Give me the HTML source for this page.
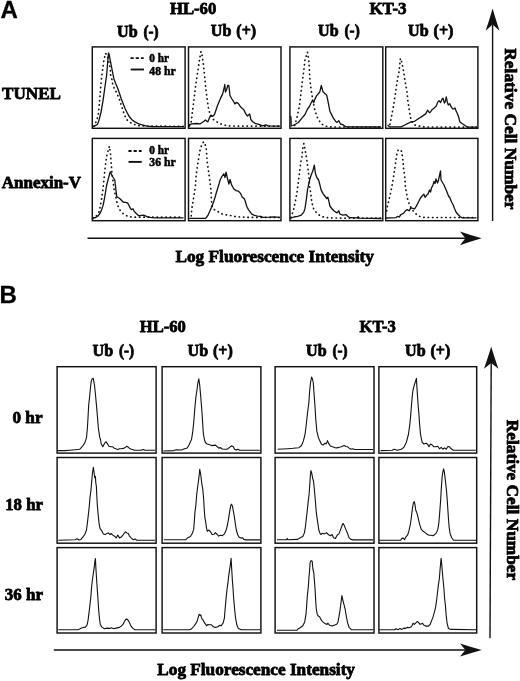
<!DOCTYPE html>
<html><head><meta charset="utf-8"><style>
html,body{margin:0;padding:0;background:#fff;}
svg{display:block;will-change:transform;}
</style></head><body>
<svg width="520" height="681" viewBox="0 0 520 681">
<rect width="520" height="681" fill="#fff"/>
<rect x="92.3" y="46.9" width="92.8" height="81.4" fill="none" stroke="#111" stroke-width="1.45"/>
<rect x="188.5" y="46.9" width="92.5" height="81.4" fill="none" stroke="#111" stroke-width="1.45"/>
<rect x="289.9" y="46.9" width="92.9" height="81.4" fill="none" stroke="#111" stroke-width="1.45"/>
<rect x="385.7" y="46.9" width="92.2" height="81.4" fill="none" stroke="#111" stroke-width="1.45"/>
<rect x="92.3" y="138.4" width="92.8" height="82.3" fill="none" stroke="#111" stroke-width="1.45"/>
<rect x="188.5" y="138.4" width="92.5" height="82.3" fill="none" stroke="#111" stroke-width="1.45"/>
<rect x="289.9" y="138.4" width="92.9" height="82.3" fill="none" stroke="#111" stroke-width="1.45"/>
<rect x="385.7" y="138.4" width="92.2" height="82.3" fill="none" stroke="#111" stroke-width="1.45"/>
<rect x="57.1" y="366.7" width="99.0" height="86.4" fill="none" stroke="#111" stroke-width="1.45"/>
<rect x="162.1" y="366.7" width="98.8" height="86.4" fill="none" stroke="#111" stroke-width="1.45"/>
<rect x="275.1" y="366.7" width="98.9" height="86.4" fill="none" stroke="#111" stroke-width="1.45"/>
<rect x="378.9" y="366.7" width="97.8" height="86.4" fill="none" stroke="#111" stroke-width="1.45"/>
<rect x="57.1" y="457.5" width="99.0" height="85.7" fill="none" stroke="#111" stroke-width="1.45"/>
<rect x="162.1" y="457.5" width="98.8" height="85.7" fill="none" stroke="#111" stroke-width="1.45"/>
<rect x="275.1" y="457.5" width="98.9" height="85.7" fill="none" stroke="#111" stroke-width="1.45"/>
<rect x="378.9" y="457.5" width="97.8" height="85.7" fill="none" stroke="#111" stroke-width="1.45"/>
<rect x="57.1" y="547.6" width="99.0" height="85.4" fill="none" stroke="#111" stroke-width="1.45"/>
<rect x="162.1" y="547.6" width="98.8" height="85.4" fill="none" stroke="#111" stroke-width="1.45"/>
<rect x="275.1" y="547.6" width="98.9" height="85.4" fill="none" stroke="#111" stroke-width="1.45"/>
<rect x="378.9" y="547.6" width="97.8" height="85.4" fill="none" stroke="#111" stroke-width="1.45"/>
<line x1="492.6" y1="24.5" x2="492.6" y2="221" stroke="#111" stroke-width="1.4"/><path d="M492.6,8.5 Q496.05,20.45 499.5,30.8 L492.6,24.5 L485.70000000000005,30.8 Q489.15000000000003,20.45 492.6,8.5Z" fill="#111"/>
<line x1="491.2" y1="363" x2="490.0" y2="638.3" stroke="#111" stroke-width="1.4"/><path d="M491.2,346.7 Q494.8,358.55 498.4,368.8 L491.2,363 L484.0,368.8 Q487.59999999999997,358.55 491.2,346.7Z" fill="#111"/>
<line x1="87.5" y1="238.3" x2="465.4" y2="238.3" stroke="#111" stroke-width="1.6"/><path d="M481.7,238.3 Q470.05,234.85000000000002 460,231.4 L465.4,238.3 L460,245.20000000000002 Q470.05,241.75 481.7,238.3Z" fill="#111"/>
<line x1="53.8" y1="650.0" x2="465.4" y2="650.0" stroke="#111" stroke-width="1.6"/><path d="M481.8,650.0 Q470.09999999999997,646.7 460,643.4 L465.4,650.0 L460,656.6 Q470.09999999999997,653.3 481.8,650.0Z" fill="#111"/>
<text x="0.45" y="18.4" font-family="&quot;Liberation Sans&quot;, sans-serif" font-weight="bold" font-size="24" text-anchor="start" stroke="#000" stroke-width="0.3" stroke-linejoin="round">A</text>
<text x="-0.45" y="302.7" font-family="&quot;Liberation Sans&quot;, sans-serif" font-weight="bold" font-size="24" text-anchor="start" stroke="#000" stroke-width="0.3" stroke-linejoin="round">B</text>
<text x="169.90" y="14.4" font-family="&quot;Liberation Serif&quot;, serif" font-weight="bold" font-size="17.5" text-anchor="start" textLength="46.4" lengthAdjust="spacingAndGlyphs" stroke="#000" stroke-width="0.8" stroke-linejoin="round">HL-60</text>
<text x="369.40" y="14.4" font-family="&quot;Liberation Serif&quot;, serif" font-weight="bold" font-size="17.5" text-anchor="start" textLength="37.2" lengthAdjust="spacingAndGlyphs" stroke="#000" stroke-width="0.8" stroke-linejoin="round">KT-3</text>
<text x="117.00" y="36.6" font-family="&quot;Liberation Serif&quot;, serif" font-weight="bold" font-size="17.5" text-anchor="start" textLength="20.6" lengthAdjust="spacingAndGlyphs" stroke="#000" stroke-width="0.8" stroke-linejoin="round">Ub</text><text x="143.40" y="36.6" font-family="&quot;Liberation Serif&quot;, serif" font-weight="bold" font-size="17.5" text-anchor="start" textLength="15.2" lengthAdjust="spacingAndGlyphs" stroke="#000" stroke-width="0.8" stroke-linejoin="round">(-)</text>
<text x="210.80" y="36.4" font-family="&quot;Liberation Serif&quot;, serif" font-weight="bold" font-size="17.5" text-anchor="start" textLength="20.6" lengthAdjust="spacingAndGlyphs" stroke="#000" stroke-width="0.8" stroke-linejoin="round">Ub</text><text x="236.30" y="36.4" font-family="&quot;Liberation Serif&quot;, serif" font-weight="bold" font-size="17.5" text-anchor="start" textLength="19.8" lengthAdjust="spacingAndGlyphs" stroke="#000" stroke-width="0.8" stroke-linejoin="round">(+)</text>
<text x="318.10" y="36.4" font-family="&quot;Liberation Serif&quot;, serif" font-weight="bold" font-size="17.5" text-anchor="start" textLength="20.6" lengthAdjust="spacingAndGlyphs" stroke="#000" stroke-width="0.8" stroke-linejoin="round">Ub</text><text x="344.50" y="36.4" font-family="&quot;Liberation Serif&quot;, serif" font-weight="bold" font-size="17.5" text-anchor="start" textLength="15.2" lengthAdjust="spacingAndGlyphs" stroke="#000" stroke-width="0.8" stroke-linejoin="round">(-)</text>
<text x="408.10" y="36.4" font-family="&quot;Liberation Serif&quot;, serif" font-weight="bold" font-size="17.5" text-anchor="start" textLength="20.6" lengthAdjust="spacingAndGlyphs" stroke="#000" stroke-width="0.8" stroke-linejoin="round">Ub</text><text x="433.60" y="36.4" font-family="&quot;Liberation Serif&quot;, serif" font-weight="bold" font-size="17.5" text-anchor="start" textLength="19.8" lengthAdjust="spacingAndGlyphs" stroke="#000" stroke-width="0.8" stroke-linejoin="round">(+)</text>
<text x="2.10" y="98.7" font-family="&quot;Liberation Serif&quot;, serif" font-weight="bold" font-size="17.5" text-anchor="start" textLength="58.9" lengthAdjust="spacingAndGlyphs" stroke="#000" stroke-width="0.8" stroke-linejoin="round">TUNEL</text>
<text x="1.80" y="187.5" font-family="&quot;Liberation Serif&quot;, serif" font-weight="bold" font-size="17.5" text-anchor="start" textLength="79.2" lengthAdjust="spacingAndGlyphs" stroke="#000" stroke-width="0.8" stroke-linejoin="round">Annexin-V</text>
<text x="175.40" y="262.3" font-family="&quot;Liberation Serif&quot;, serif" font-weight="bold" font-size="17.5" text-anchor="start" textLength="198.5" lengthAdjust="spacingAndGlyphs" stroke="#000" stroke-width="0.8" stroke-linejoin="round">Log Fluorescence Intensity</text>
<g transform="translate(505,47.9) rotate(90)"><text x="0.40" y="0" font-family="&quot;Liberation Serif&quot;, serif" font-weight="bold" font-size="17.5" text-anchor="start" textLength="161.2" lengthAdjust="spacingAndGlyphs" stroke="#000" stroke-width="0.8" stroke-linejoin="round">Relative Cell Number</text></g>
<text x="149.35" y="61.9" font-family="&quot;Liberation Serif&quot;, serif" font-weight="bold" font-size="12" text-anchor="start" textLength="19.8" lengthAdjust="spacingAndGlyphs" stroke="#000" stroke-width="0.5" stroke-linejoin="round">0 hr</text>
<text x="149.35" y="75.4" font-family="&quot;Liberation Serif&quot;, serif" font-weight="bold" font-size="12" text-anchor="start" textLength="26.3" lengthAdjust="spacingAndGlyphs" stroke="#000" stroke-width="0.5" stroke-linejoin="round">48 hr</text>
<text x="149.35" y="153.7" font-family="&quot;Liberation Serif&quot;, serif" font-weight="bold" font-size="12" text-anchor="start" textLength="19.8" lengthAdjust="spacingAndGlyphs" stroke="#000" stroke-width="0.5" stroke-linejoin="round">0 hr</text>
<text x="149.35" y="166.2" font-family="&quot;Liberation Serif&quot;, serif" font-weight="bold" font-size="12" text-anchor="start" textLength="26.3" lengthAdjust="spacingAndGlyphs" stroke="#000" stroke-width="0.5" stroke-linejoin="round">36 hr</text>
<text x="139.80" y="331.6" font-family="&quot;Liberation Serif&quot;, serif" font-weight="bold" font-size="17.5" text-anchor="start" textLength="46.1" lengthAdjust="spacingAndGlyphs" stroke="#000" stroke-width="0.8" stroke-linejoin="round">HL-60</text>
<text x="359.60" y="332.3" font-family="&quot;Liberation Serif&quot;, serif" font-weight="bold" font-size="17.5" text-anchor="start" textLength="36.2" lengthAdjust="spacingAndGlyphs" stroke="#000" stroke-width="0.8" stroke-linejoin="round">KT-3</text>
<text x="92.50" y="356.3" font-family="&quot;Liberation Serif&quot;, serif" font-weight="bold" font-size="17.5" text-anchor="start" textLength="20.6" lengthAdjust="spacingAndGlyphs" stroke="#000" stroke-width="0.8" stroke-linejoin="round">Ub</text><text x="118.90" y="356.3" font-family="&quot;Liberation Serif&quot;, serif" font-weight="bold" font-size="17.5" text-anchor="start" textLength="15.2" lengthAdjust="spacingAndGlyphs" stroke="#000" stroke-width="0.8" stroke-linejoin="round">(-)</text>
<text x="187.50" y="356.3" font-family="&quot;Liberation Serif&quot;, serif" font-weight="bold" font-size="17.5" text-anchor="start" textLength="20.6" lengthAdjust="spacingAndGlyphs" stroke="#000" stroke-width="0.8" stroke-linejoin="round">Ub</text><text x="213.00" y="356.3" font-family="&quot;Liberation Serif&quot;, serif" font-weight="bold" font-size="17.5" text-anchor="start" textLength="19.8" lengthAdjust="spacingAndGlyphs" stroke="#000" stroke-width="0.8" stroke-linejoin="round">(+)</text>
<text x="306.00" y="356.2" font-family="&quot;Liberation Serif&quot;, serif" font-weight="bold" font-size="17.5" text-anchor="start" textLength="20.6" lengthAdjust="spacingAndGlyphs" stroke="#000" stroke-width="0.8" stroke-linejoin="round">Ub</text><text x="332.40" y="356.2" font-family="&quot;Liberation Serif&quot;, serif" font-weight="bold" font-size="17.5" text-anchor="start" textLength="15.2" lengthAdjust="spacingAndGlyphs" stroke="#000" stroke-width="0.8" stroke-linejoin="round">(-)</text>
<text x="405.00" y="356.3" font-family="&quot;Liberation Serif&quot;, serif" font-weight="bold" font-size="17.5" text-anchor="start" textLength="20.6" lengthAdjust="spacingAndGlyphs" stroke="#000" stroke-width="0.8" stroke-linejoin="round">Ub</text><text x="430.50" y="356.3" font-family="&quot;Liberation Serif&quot;, serif" font-weight="bold" font-size="17.5" text-anchor="start" textLength="19.8" lengthAdjust="spacingAndGlyphs" stroke="#000" stroke-width="0.8" stroke-linejoin="round">(+)</text>
<text x="12.50" y="423.1" font-family="&quot;Liberation Serif&quot;, serif" font-weight="bold" font-size="17.5" text-anchor="start" textLength="30.0" lengthAdjust="spacingAndGlyphs" stroke="#000" stroke-width="0.8" stroke-linejoin="round">0 hr</text>
<text x="5.20" y="510.4" font-family="&quot;Liberation Serif&quot;, serif" font-weight="bold" font-size="17.5" text-anchor="start" textLength="37.7" lengthAdjust="spacingAndGlyphs" stroke="#000" stroke-width="0.8" stroke-linejoin="round">18 hr</text>
<text x="4.80" y="599.8" font-family="&quot;Liberation Serif&quot;, serif" font-weight="bold" font-size="17.5" text-anchor="start" textLength="38.1" lengthAdjust="spacingAndGlyphs" stroke="#000" stroke-width="0.8" stroke-linejoin="round">36 hr</text>
<text x="157.30" y="675.4" font-family="&quot;Liberation Serif&quot;, serif" font-weight="bold" font-size="17.5" text-anchor="start" textLength="197.7" lengthAdjust="spacingAndGlyphs" stroke="#000" stroke-width="0.8" stroke-linejoin="round">Log Fluorescence Intensity</text>
<g transform="translate(506.7,419.4) rotate(90)"><text x="0.40" y="0" font-family="&quot;Liberation Serif&quot;, serif" font-weight="bold" font-size="17.5" text-anchor="start" textLength="160.4" lengthAdjust="spacingAndGlyphs" stroke="#000" stroke-width="0.8" stroke-linejoin="round">Relative Cell Number</text></g>
<polyline points="93.2,126.6 94.7,125.8 96.2,125.2 97.5,124.3 98.4,122.0 99.3,119.1 100.2,115.5 101.1,111.8 102.0,106.3 103.0,100.8 103.9,94.4 104.8,88.0 105.7,81.5 106.6,75.3 107.1,69.8 107.5,64.3 108.0,58.5 108.5,52.8 109.3,55.0 110.3,60.6 112.1,69.8 113.9,78.9 115.7,83.5 117.6,88.0 119.5,93.5 121.3,99.0 123.1,103.6 124.9,108.2 126.8,112.0 128.6,115.5 130.4,118.0 132.2,120.0 134.5,121.6 136.8,122.8 139.0,123.8 141.4,124.6 146.8,126.1 152.0,126.5 184.0,126.6" fill="none" stroke="#111" stroke-width="1.3" stroke-linejoin="round"/>
<polyline points="93.8,126.3 95.2,123.5 96.6,121.0 97.5,117.5 98.4,113.6 99.3,104.5 100.2,93.5 101.1,82.6 102.1,73.4 103.0,67.0 103.9,60.6 104.8,56.5 105.7,53.3 106.8,55.5 108.2,58.5 110.4,69.6 110.4,74.0 111.9,79.5 112.4,83.0 114.4,88.7 116.7,92.9 119.8,100.3 121.5,106.0 123.8,113.0 126.3,119.3 130.2,122.5 134.0,124.4 140.0,125.9 184.0,126.4" fill="none" stroke="#111" stroke-width="1.7" stroke-dasharray="0.3 4.1" stroke-linecap="round"/>
<polyline points="188.6,125.0 191.7,123.8 196.6,123.5 200.3,123.8 204.0,121.3 205.3,120.0 207.8,121.9 209.6,117.6 210.8,115.1 212.7,116.4 214.5,114.5 217.6,105.3 220.7,97.9 222.6,94.1 224.4,86.7 224.8,84.5 225.4,92.0 226.5,90.0 227.7,85.5 228.8,85.5 229.4,89.7 229.9,95.2 231.6,98.5 233.8,101.8 234.9,104.0 236.5,102.3 238.2,103.4 240.9,107.3 243.6,109.5 245.8,113.9 247.5,116.0 249.7,113.9 250.8,119.3 252.4,121.5 255.7,123.7 259.0,124.3 262.3,125.9 266.1,124.8 267.8,125.9 280.0,126.1" fill="none" stroke="#111" stroke-width="1.3" stroke-linejoin="round"/>
<polyline points="189.5,126.0 191.1,122.5 192.3,112.7 193.6,102.8 194.8,92.9 196.0,83.0 197.9,70.7 199.7,58.3 201.0,51.6 202.2,55.9 203.4,64.5 204.7,76.9 205.9,89.2 207.1,99.1 208.4,107.7 210.2,115.1 213.9,120.0 218.9,123.2 223.8,125.0 230.0,126.0 280.0,126.2" fill="none" stroke="#111" stroke-width="1.7" stroke-dasharray="0.3 4.1" stroke-linecap="round"/>
<polyline points="290.5,116.0 291.0,118.0 291.2,126.0 292.7,125.5 295.8,124.0 298.3,122.5 301.3,118.8 305.0,114.5 307.5,109.0 309.4,106.5 311.2,102.8 312.5,100.3 313.7,102.8 314.9,99.1 316.8,95.4 318.6,93.5 319.9,91.7 321.3,85.5 323.0,91.7 325.4,94.1 326.6,95.0 327.3,97.9 328.2,102.3 329.9,111.2 331.6,114.6 333.2,117.9 335.5,121.2 337.1,122.4 338.8,120.7 340.5,124.0 342.7,124.6 344.4,125.7 346.1,126.8 381.0,127.0" fill="none" stroke="#111" stroke-width="1.3" stroke-linejoin="round"/>
<polyline points="294.6,125.5 297.0,117.6 299.5,105.3 301.3,90.4 302.6,79.3 303.8,70.7 305.0,59.6 306.3,55.9 307.5,52.2 308.8,60.8 309.4,70.7 310.0,80.6 311.2,90.4 313.1,101.6 314.9,110.2 317.4,117.6 321.1,123.8 326.0,126.2 332.2,127.0 381.0,127.0" fill="none" stroke="#111" stroke-width="1.7" stroke-dasharray="0.3 4.1" stroke-linecap="round"/>
<polyline points="387.5,125.0 389.9,126.9 401.0,126.9 404.8,125.0 408.5,123.2 410.9,121.9 414.6,121.3 418.3,118.8 422.0,116.4 425.7,113.9 427.6,110.2 429.4,112.7 430.5,112.0 431.9,109.8 434.3,107.9 436.3,106.0 437.7,102.1 439.1,100.7 440.6,102.6 442.0,99.2 443.0,98.3 444.4,103.1 445.4,101.2 446.3,96.8 447.3,102.1 448.3,105.0 449.7,103.6 451.2,106.9 452.6,108.8 454.0,108.8 455.0,107.9 456.0,110.8 457.4,113.7 458.8,117.5 459.8,121.8 461.7,123.3 464.6,125.2 466.5,126.6 468.5,127.1 476.5,127.1" fill="none" stroke="#111" stroke-width="1.3" stroke-linejoin="round"/>
<polyline points="389.9,124.5 391.8,115.1 393.6,105.3 395.5,92.9 396.7,84.3 398.0,76.9 399.2,70.7 400.4,58.3 401.7,62.0 403.5,70.7 404.8,79.3 406.0,86.7 407.2,92.9 407.8,100.3 409.1,109.0 410.3,116.4 411.5,121.3 414.6,125.0 419.6,126.2 425.0,127.0 476.5,127.1" fill="none" stroke="#111" stroke-width="1.7" stroke-dasharray="0.3 4.1" stroke-linecap="round"/>
<polyline points="92.6,218.2 95.7,217.5 98.0,216.0 100.2,213.0 101.7,209.5 103.0,205.6 104.0,201.0 104.8,196.5 105.7,191.0 106.6,185.5 107.6,181.5 108.5,178.2 109.5,174.5 110.3,171.8 111.3,174.0 112.5,176.5 113.8,178.5 114.8,180.0 115.7,188.0 116.7,196.5 118.0,197.5 119.4,198.3 121.2,200.0 123.1,202.0 125.3,202.4 127.6,202.9 129.0,205.5 130.4,208.4 131.3,209.6 133.0,208.8 134.0,211.1 136.3,213.5 138.6,215.7 140.3,215.7 143.6,215.2 147.0,216.6 150.3,217.4 154.8,217.9 183.5,217.9" fill="none" stroke="#111" stroke-width="1.3" stroke-linejoin="round"/>
<polyline points="93.0,218.5 95.7,216.6 97.5,214.5 99.3,211.1 101.1,202.0 103.0,189.2 104.8,170.9 106.6,156.3 108.0,151.0 109.4,146.2 110.5,154.0 111.1,162.7 111.8,171.3 113.0,181.2 114.2,189.9 116.1,198.5 117.9,205.9 120.4,210.8 124.1,214.5 129.0,216.8 135.2,217.2 183.5,217.2" fill="none" stroke="#111" stroke-width="1.7" stroke-dasharray="0.3 4.1" stroke-linecap="round"/>
<polyline points="189.2,218.4 205.3,218.4 206.5,217.4 208.2,214.8 209.9,211.1 211.8,206.8 213.6,202.0 215.0,197.5 216.3,192.8 217.8,188.0 219.1,183.7 220.1,180.0 222.0,176.3 223.8,173.8 225.0,177.5 226.1,172.2 227.2,177.3 228.9,184.0 230.0,179.5 231.7,185.1 233.9,189.0 236.1,190.6 238.4,191.2 240.6,193.4 242.3,197.3 244.0,198.4 245.1,200.7 246.7,206.2 248.4,209.6 250.1,211.8 251.8,214.1 254.0,215.2 257.3,216.1 260.7,216.3 262.9,217.4 269.6,217.2 274.1,216.8 280.0,217.4" fill="none" stroke="#111" stroke-width="1.3" stroke-linejoin="round"/>
<polyline points="191.2,216.0 191.7,209.3 193.5,198.3 195.3,187.4 196.2,174.6 198.1,161.8 199.9,150.8 201.5,145.5 203.6,141.8 205.0,144.0 206.3,149.0 207.2,161.8 209.0,174.6 210.9,189.2 211.8,205.6 213.6,209.3 217.0,210.8 220.1,213.3 223.8,214.5 228.7,215.2 232.4,215.8 236.1,216.8 247.3,217.4 280.0,217.5" fill="none" stroke="#111" stroke-width="1.7" stroke-dasharray="0.3 4.1" stroke-linecap="round"/>
<polyline points="290.2,218.4 293.9,217.0 297.6,216.4 301.3,215.2 303.8,212.1 305.0,208.4 306.3,199.7 307.5,189.9 308.8,183.7 310.0,178.7 311.2,175.0 313.1,170.1 314.3,165.2 315.5,173.8 316.8,177.5 318.6,180.0 319.9,184.9 321.1,189.9 323.0,193.6 324.8,196.0 326.7,198.5 327.9,197.3 329.1,202.2 329.9,206.0 332.1,209.0 334.4,211.2 337.1,212.9 338.8,210.7 339.9,214.0 342.7,215.1 346.1,214.6 347.7,216.2 350.0,217.7 357.2,217.9 358.3,216.8 359.4,218.1 381.5,218.5" fill="none" stroke="#111" stroke-width="1.3" stroke-linejoin="round"/>
<polyline points="291.0,217.5 291.5,215.8 293.3,210.8 295.2,202.2 297.0,192.3 298.3,182.4 299.5,172.6 300.7,162.7 302.0,156.5 302.6,149.1 303.8,143.6 305.0,149.1 306.3,156.5 307.5,165.2 308.8,175.0 309.4,184.9 310.6,192.3 311.8,202.2 313.7,209.0 316.8,213.3 321.1,216.4 326.0,217.6 332.2,218.0 381.5,218.2" fill="none" stroke="#111" stroke-width="1.7" stroke-dasharray="0.3 4.1" stroke-linecap="round"/>
<polyline points="386.2,218.0 396.1,217.6 397.3,216.4 399.2,217.0 401.0,214.5 403.5,213.3 405.4,210.8 407.2,209.6 409.1,210.8 410.9,207.8 412.8,208.4 414.6,209.0 416.5,205.9 418.3,202.2 420.2,198.5 422.0,196.0 423.9,194.2 425.1,197.3 427.0,194.8 428.0,194.0 429.5,190.0 430.5,192.0 431.5,188.0 433.0,185.0 434.0,181.5 435.0,183.5 436.0,179.0 437.5,183.0 438.5,180.0 439.5,175.5 440.5,171.0 441.0,180.0 442.5,182.5 444.0,185.0 445.5,188.5 447.0,192.0 448.5,196.0 450.0,198.0 451.5,202.0 453.0,204.5 454.5,208.5 456.0,212.0 458.0,214.5 460.0,216.5 462.0,217.8 476.5,217.8" fill="none" stroke="#111" stroke-width="1.3" stroke-linejoin="round"/>
<polyline points="386.6,211.0 387.5,205.9 389.3,198.5 391.2,189.9 392.4,183.7 393.6,176.3 394.9,167.6 396.1,159.0 397.3,151.6 398.6,149.7 400.4,149.7 401.7,151.6 402.9,160.2 403.5,167.6 404.8,177.5 405.4,187.4 406.6,193.6 407.8,199.7 409.7,205.3 412.2,209.6 414.6,212.7 418.3,215.8 422.0,217.3 429.4,217.5 476.5,217.5" fill="none" stroke="#111" stroke-width="1.7" stroke-dasharray="0.3 4.1" stroke-linecap="round"/>
<polyline points="57.6,450.6 64.8,450.6 69.9,450.2 75.1,449.7 79.6,449.3 82.2,446.7 84.8,442.9 86.5,437.7 87.4,428.0 88.0,417.7 88.7,404.8 89.6,397.0 90.3,389.3 91.2,381.5 92.1,378.9 93.2,378.3 94.5,385.0 95.5,395.0 96.4,404.6 97.4,416.1 98.3,427.6 99.7,437.2 100.6,440.0 101.1,443.4 102.8,446.8 104.5,443.4 106.1,441.7 107.2,443.4 108.9,446.2 111.1,446.8 112.8,446.8 113.9,447.9 115.6,448.8 117.8,449.5 119.5,448.8 121.2,448.8 123.4,448.4 125.1,447.6 126.8,446.2 128.4,447.3 130.1,448.8 132.3,449.5 134.6,450.3 141.2,450.1 143.5,449.5 144.6,450.1 155.0,450.3" fill="none" stroke="#111" stroke-width="1.1" stroke-linejoin="round"/>
<polyline points="163.3,451.0 173.6,450.6 176.2,449.7 181.4,450.0 184.6,448.7 187.2,448.0 189.1,444.8 191.5,439.6 192.7,431.9 193.7,422.8 194.3,415.1 194.9,407.3 195.9,397.0 196.9,390.5 197.9,382.8 198.8,378.9 199.7,385.0 200.6,395.0 201.5,406.0 202.3,417.0 202.9,427.0 203.4,434.0 204.5,440.0 205.6,442.7 207.2,444.0 209.5,444.7 211.7,445.6 213.4,445.4 215.6,445.1 217.3,446.8 218.9,448.1 220.6,447.6 222.3,449.0 224.5,449.2 226.7,449.2 228.4,448.4 230.1,446.8 231.8,445.9 233.4,446.8 234.5,449.2 236.2,450.1 237.9,449.2 239.6,450.3 259.8,450.3" fill="none" stroke="#111" stroke-width="1.1" stroke-linejoin="round"/>
<polyline points="277.6,449.3 287.9,448.7 293.1,448.3 298.9,447.7 301.5,445.5 303.4,440.9 305.0,434.5 306.0,426.7 307.0,417.7 307.9,409.9 308.9,402.2 309.6,391.8 310.5,382.8 311.6,377.0 312.6,379.5 313.3,383.0 314.0,393.0 315.0,406.4 315.8,419.8 316.9,431.4 318.3,437.2 319.7,440.6 321.3,444.0 323.0,445.1 324.7,443.4 326.4,443.6 327.5,440.6 328.6,443.4 330.3,445.9 332.5,446.8 334.7,447.6 337.0,447.9 339.2,447.3 341.4,446.8 344.2,445.6 345.9,446.5 347.5,446.8 349.2,448.1 350.9,449.2 352.6,448.8 354.8,449.5 373.0,449.5" fill="none" stroke="#111" stroke-width="1.1" stroke-linejoin="round"/>
<polyline points="380.6,450.6 392.2,450.2 394.1,449.3 397.4,450.2 401.3,449.3 403.8,447.4 406.4,442.2 408.4,434.5 409.7,425.4 410.6,416.4 411.3,407.3 412.2,397.0 412.9,390.5 414.2,385.4 415.5,381.5 416.4,378.3 416.8,385.4 417.4,394.4 418.1,404.8 419.0,415.1 419.6,424.1 420.4,433.2 421.1,437.5 422.2,442.3 423.9,444.0 426.1,443.2 427.8,444.5 428.9,446.8 430.6,444.0 432.3,445.1 433.9,446.8 436.2,446.8 437.8,446.2 439.5,448.8 441.2,447.3 442.9,449.2 444.5,447.9 446.2,449.2 447.9,446.5 449.5,446.8 451.2,448.8 453.4,450.3 475.8,450.3" fill="none" stroke="#111" stroke-width="1.1" stroke-linejoin="round"/>
<polyline points="58.3,540.3 75.1,539.7 77.0,538.7 79.0,540.0 80.9,539.4 82.8,537.1 84.8,534.5 86.5,530.0 87.4,522.9 88.3,515.1 89.3,506.1 89.9,498.3 90.9,490.6 91.6,482.8 92.5,472.5 93.4,467.3 94.2,473.8 94.7,477.7 95.4,476.4 95.8,482.8 96.4,486.7 96.8,495.8 97.3,504.8 98.1,513.8 99.0,522.9 100.0,528.4 101.7,530.7 103.3,534.0 105.0,534.6 106.7,533.5 108.4,532.9 110.0,534.6 111.1,533.5 112.8,535.1 114.5,536.2 116.2,537.9 117.8,535.1 119.5,537.9 121.2,537.1 122.9,535.1 124.0,533.5 125.4,531.8 126.8,532.9 128.4,533.5 129.5,536.2 131.2,537.9 133.4,539.8 135.1,539.0 136.8,540.2 155.2,540.2" fill="none" stroke="#111" stroke-width="1.1" stroke-linejoin="round"/>
<polyline points="163.9,539.7 185.9,539.7 187.8,537.7 190.4,536.5 192.4,533.2 193.7,529.4 194.3,521.6 194.9,512.6 195.9,504.8 196.6,495.8 197.5,488.0 198.4,481.5 199.2,475.1 199.7,469.3 200.6,473.5 201.7,482.8 202.8,489.3 203.6,498.3 204.2,508.7 204.9,517.7 205.7,522.0 206.5,528.1 207.3,531.3 208.5,530.0 210.1,531.3 211.2,532.8 212.1,534.5 214.0,534.3 215.3,532.6 217.3,534.5 218.6,536.1 220.5,535.2 222.4,535.6 224.4,533.9 225.7,531.3 227.0,526.8 228.3,520.3 229.3,513.8 230.2,508.7 230.8,505.4 231.5,504.2 232.4,506.1 233.4,511.3 234.5,517.7 235.4,524.2 236.3,530.0 237.6,534.5 238.9,537.1 240.9,538.1 242.5,537.7 243.8,539.4 246.3,539.9 260.0,539.9" fill="none" stroke="#111" stroke-width="1.1" stroke-linejoin="round"/>
<polyline points="276.9,539.7 286.6,539.7 287.3,538.4 287.9,539.7 297.6,539.4 300.2,537.7 302.8,536.5 304.5,532.6 305.4,526.8 306.3,519.0 307.3,510.0 308.3,500.9 309.2,493.2 309.9,482.8 310.3,476.4 310.9,470.6 311.8,473.5 312.7,478.5 313.5,481.0 314.4,489.7 315.4,501.2 316.3,512.7 317.7,522.4 318.8,530.0 320.2,533.9 321.0,534.5 322.5,533.2 324.5,533.9 326.4,532.6 328.3,534.5 330.3,535.8 332.2,534.5 333.5,537.7 335.4,538.4 337.1,535.2 338.9,533.9 340.2,530.6 341.6,526.8 342.5,524.2 343.2,523.5 344.5,526.1 345.8,529.4 347.5,533.2 349.0,537.7 350.9,539.4 352.9,539.9 373.0,539.9" fill="none" stroke="#111" stroke-width="1.1" stroke-linejoin="round"/>
<polyline points="379.3,540.3 400.6,540.3 401.9,538.4 403.2,538.1 404.5,539.7 405.8,537.1 407.5,535.2 408.7,531.9 409.7,527.4 410.6,522.9 411.3,517.7 411.9,512.6 412.6,507.4 413.3,503.5 414.2,501.6 414.9,504.2 415.7,510.0 416.8,512.6 417.8,516.4 418.7,520.3 419.6,524.2 420.3,526.5 421.3,529.4 423.2,531.3 425.2,532.6 427.1,534.3 429.0,535.2 431.0,535.2 432.9,535.8 434.9,534.5 436.5,532.6 437.8,529.4 438.7,524.2 439.4,516.4 440.0,508.7 440.7,499.6 441.1,491.9 441.7,482.8 442.2,476.4 443.0,471.2 443.6,468.9 444.3,471.9 444.9,476.4 445.8,484.1 446.5,490.6 447.1,498.3 447.8,508.7 448.4,517.7 449.1,526.8 450.0,533.2 451.7,537.7 453.6,540.3 476.0,540.3" fill="none" stroke="#111" stroke-width="1.1" stroke-linejoin="round"/>
<polyline points="58.3,629.7 77.7,629.7 79.6,629.0 81.5,628.1 83.5,627.4 85.4,627.1 87.0,625.2 88.0,620.6 89.0,612.9 89.9,605.1 90.9,596.1 91.6,587.0 92.5,579.3 93.4,572.8 94.2,567.7 94.7,562.5 95.4,558.6 95.8,566.4 96.1,571.5 96.7,580.6 97.3,589.6 98.1,601.3 98.7,610.3 99.4,618.1 100.3,624.5 101.9,627.1 104.5,628.7 107.1,628.1 109.7,628.4 111.6,627.7 113.6,628.7 116.1,628.1 119.4,627.4 121.3,626.1 123.3,623.9 124.5,621.3 125.8,619.4 127.1,619.1 128.4,620.6 129.7,623.2 131.0,626.1 132.9,628.4 134.9,629.7 155.4,629.7" fill="none" stroke="#111" stroke-width="1.1" stroke-linejoin="round"/>
<polyline points="163.3,629.7 189.8,629.7 191.7,628.7 193.7,626.5 195.6,623.9 197.1,621.3 198.2,617.4 199.2,614.2 200.1,615.5 200.8,614.8 201.4,617.4 202.3,619.4 203.1,620.0 204.0,621.9 205.3,623.9 206.6,625.8 207.9,624.5 209.8,624.8 211.5,624.8 213.4,626.8 215.3,627.4 217.9,626.8 219.9,625.2 221.1,625.8 223.1,623.2 224.4,618.1 225.0,610.3 225.7,602.6 226.3,596.1 227.0,589.6 227.9,583.2 228.6,576.7 229.5,570.3 230.3,565.1 231.1,558.4 231.7,569.0 232.4,580.6 233.0,588.3 233.7,598.7 234.5,607.7 235.4,616.8 236.7,624.5 238.3,628.4 241.2,629.7 260.0,629.7" fill="none" stroke="#111" stroke-width="1.1" stroke-linejoin="round"/>
<polyline points="276.9,630.3 297.0,630.3 298.3,628.7 300.2,627.7 302.8,625.8 304.7,621.9 306.0,614.2 306.7,605.1 307.3,596.1 308.3,587.0 308.9,578.0 309.6,570.3 310.1,562.5 311.2,560.6 312.2,561.2 312.9,569.0 313.8,572.8 314.4,580.6 315.1,589.6 315.7,601.3 316.3,609.0 317.2,614.2 318.3,616.1 319.6,616.8 320.9,619.4 322.2,621.3 324.5,623.2 327.0,624.5 327.7,623.2 329.6,625.2 332.2,626.1 334.1,625.2 336.7,624.3 338.0,621.9 338.9,616.8 340.0,610.3 341.0,602.6 341.9,595.5 342.8,600.0 343.8,603.8 345.1,609.0 346.4,616.8 347.7,623.2 349.3,627.7 351.3,629.7 373.0,629.7" fill="none" stroke="#111" stroke-width="1.1" stroke-linejoin="round"/>
<polyline points="379.3,629.7 394.8,629.7 396.1,628.7 398.0,629.7 400.0,628.4 401.9,629.4 403.8,628.1 405.8,628.4 407.1,627.4 409.0,627.7 410.9,627.1 412.2,625.2 413.1,623.2 414.4,624.3 416.1,622.6 417.4,621.3 418.7,622.6 420.0,624.3 421.3,623.9 422.6,623.2 423.9,625.2 425.8,626.1 428.4,626.1 430.1,624.5 431.6,620.6 432.9,617.4 434.2,612.9 435.5,607.7 436.5,601.3 437.4,593.5 438.3,585.8 439.4,578.0 440.0,570.3 440.7,562.5 441.1,558.4 441.7,563.8 442.2,570.3 443.0,579.3 443.9,588.3 444.5,597.4 445.5,606.4 446.2,615.5 447.1,623.2 448.4,628.4 451.0,629.4 476.0,629.7" fill="none" stroke="#111" stroke-width="1.1" stroke-linejoin="round"/>
<line x1="130.5" y1="58.15" x2="143.7" y2="58.15" stroke="#111" stroke-width="1.8" stroke-dasharray="3.2 2.0"/>
<line x1="130.7" y1="69.5" x2="144" y2="69.5" stroke="#111" stroke-width="1.9"/>
<line x1="128.4" y1="151" x2="141.6" y2="151" stroke="#111" stroke-width="1.8" stroke-dasharray="3.2 2.0"/>
<line x1="128.5" y1="161.9" x2="141.7" y2="161.9" stroke="#111" stroke-width="1.9"/>
</svg>
</body></html>
